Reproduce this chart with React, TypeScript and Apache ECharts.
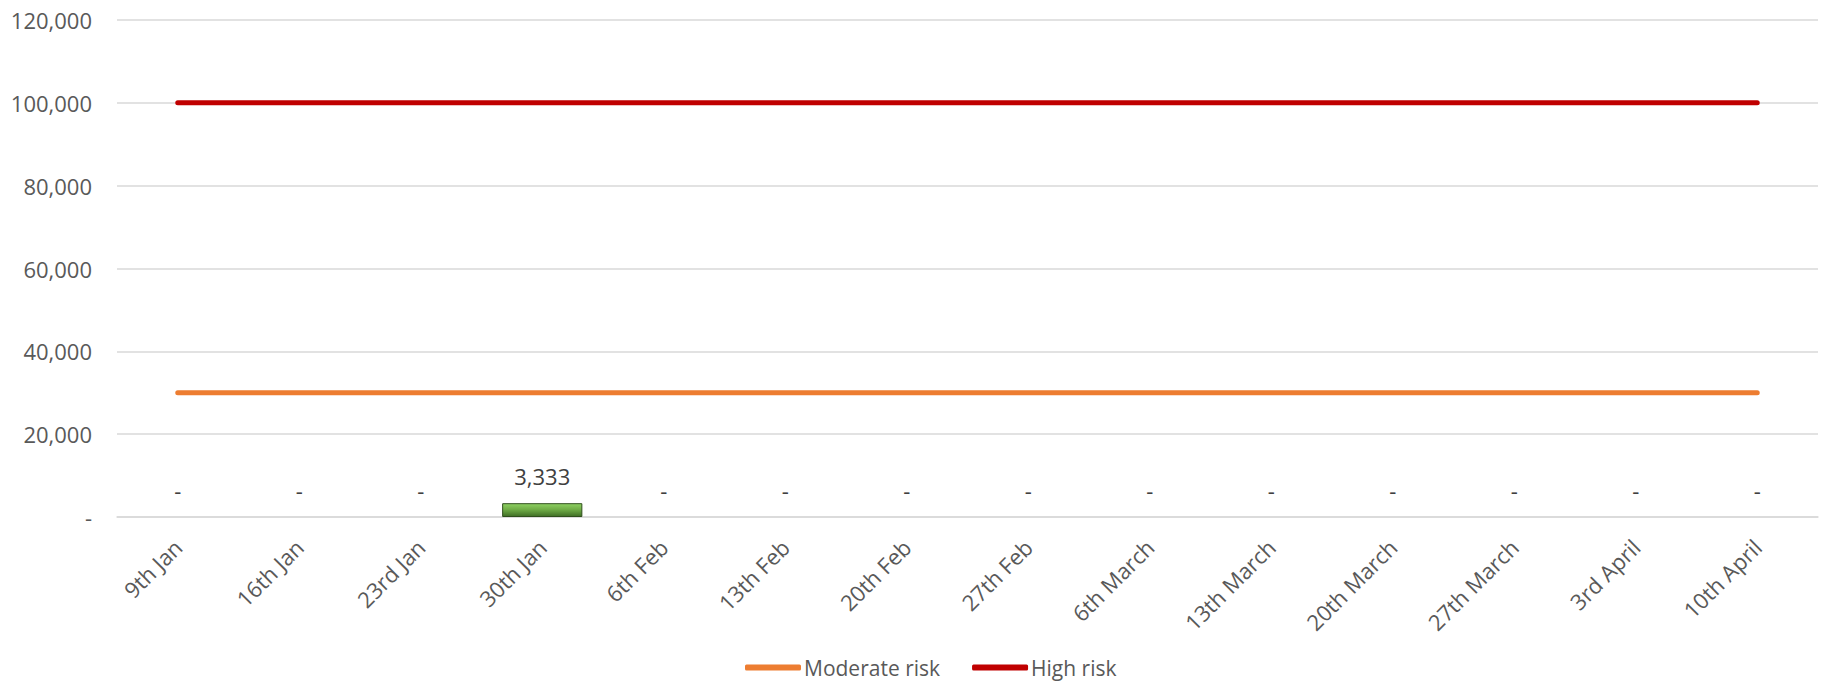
import React, { useEffect, useRef } from "react";
import * as echarts from "echarts";

const categories = [
  "9th Jan", "16th Jan", "23rd Jan", "30th Jan", "6th Feb", "13th Feb", "20th Feb",
  "27th Feb", "6th March", "13th March", "20th March", "27th March", "3rd April", "10th April",
];
const casesValues = [0, 0, 0, 3333, 0, 0, 0, 0, 0, 0, 0, 0, 0, 0];
const moderateRisk = [30000, 30000, 30000, 30000, 30000, 30000, 30000, 30000, 30000, 30000, 30000, 30000, 30000, 30000];
const highRisk = [100000, 100000, 100000, 100000, 100000, 100000, 100000, 100000, 100000, 100000, 100000, 100000, 100000, 100000];
const yTicks = { min: 0, max: 120000, interval: 20000 };

const FONT = "'Open Sans', 'Noto Sans', sans-serif";
const FS = 22;

function fmt(v: number): string {
  if (v === 0) return "-";
  return v.toLocaleString("en-US");
}

export default function App() {
  const ref = useRef<HTMLDivElement>(null);
  useEffect(() => {
    if (!ref.current) return;
    const chart = echarts.init(ref.current, null, { renderer: "svg" });
    const barData = casesValues.map((v) => ({
      value: v,
      itemStyle: v === 0 ? { borderWidth: 0, opacity: 0 } : {},
    }));
    chart.setOption({
      animation: false,
      backgroundColor: "#ffffff",
      textStyle: { fontFamily: FONT },
      grid: { left: 117, right: 3, top: 20, bottom: 170, containLabel: false },
      legend: {
        bottom: 4,
        left: 740,
        data: ["Moderate risk", "High risk"],
        icon: "roundRect",
        itemWidth: 56,
        itemHeight: 6,
        itemGap: 32,
        textStyle: { color: "#595959", fontSize: 21, fontFamily: FONT, padding: [0, 0, 0, -2] },
      },
      xAxis: {
        type: "category",
        data: categories,
        axisLine: { lineStyle: { color: "#d9d9d9", width: 1.5 } },
        axisTick: { show: false },
        axisLabel: {
          rotate: 45,
          color: "#595959",
          fontSize: FS,
          fontFamily: FONT,
          margin: 26,
          interval: 0,
        },
      },
      yAxis: {
        type: "value",
        min: yTicks.min,
        max: yTicks.max,
        interval: yTicks.interval,
        axisLine: { show: false },
        axisTick: { show: false },
        splitLine: { lineStyle: { color: "#d9d9d9", width: 1.5 } },
        axisLabel: {
          color: "#595959",
          fontSize: FS,
          fontFamily: FONT,
          margin: 25,
          formatter: (v: number) => fmt(v),
        },
      },
      series: [
        {
          name: "Cases",
          type: "bar",
          data: barData,
          barWidth: "66%",
          itemStyle: {
            color: new echarts.graphic.LinearGradient(0, 0, 0, 1, [
              { offset: 0, color: "#8fd163" },
              { offset: 0.45, color: "#70ad47" },
              { offset: 1, color: "#3f6e25" },
            ]),
            borderColor: "#2f4f1c",
            borderWidth: 1,
          },
          label: {
            show: true,
            position: "top",
            distance: 16,
            color: "#404040",
            fontSize: FS,
            fontFamily: FONT,
            opacity: 1,
            formatter: (p: any) => fmt(p.value),
          },
          z: 2,
        },
        {
          name: "Moderate risk",
          type: "line",
          data: moderateRisk,
          symbol: "none",
          lineStyle: { color: "#ed7d31", width: 5, cap: "round" },
          itemStyle: { color: "#ed7d31" },
          z: 3,
        },
        {
          name: "High risk",
          type: "line",
          data: highRisk,
          symbol: "none",
          lineStyle: { color: "#c00000", width: 5, cap: "round" },
          itemStyle: { color: "#c00000" },
          z: 3,
        },
      ],
    });
    return () => chart.dispose();
  }, []);
  return (
    <div
      ref={ref}
      style={{ position: "fixed", left: 0, top: 0, width: 1821, height: 687 }}
    />
  );
}
